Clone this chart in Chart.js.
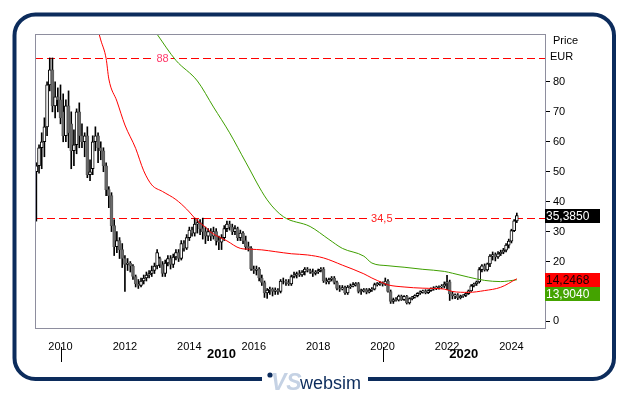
<!DOCTYPE html>
<html>
<head>
<meta charset="utf-8">
<script src="https://cdn.jsdelivr.net/npm/chart.js@4/dist/chart.umd.min.js"></script>
<style>
  html, body { margin: 0; padding: 0; background: #fff; }
  canvas { display: block; }
</style>
</head>
<body>
<canvas id="chart" width="629" height="395"></canvas>
<script>
// monthly candles, first one is April 2009
const firstYear = 2009;
const firstMonth = 4;
const monthCount = 190;

const open = [
  50, 52, 58, 60, 65, 79, 84, 72, 75, 74,
  70, 62, 72, 66, 57, 59, 70, 62, 60, 62,
  49, 51, 60, 62, 58, 57, 52, 44, 42, 32,
  25, 27, 24, 21, 19, 19.5, 18.5, 15, 12.5, 12,
  13.5, 14.5, 15.5, 16, 17, 18.5, 21, 19, 16, 19.5,
  21, 19, 21.5, 23, 21, 26, 24.5, 28, 30.5, 29.5,
  32.5, 33, 31, 30, 28.5, 30, 28.5, 30, 27, 26.5,
  28, 31, 32.5, 31.5, 30, 31, 28, 29.5, 27, 25,
  24.5, 17.5, 17, 17.5, 14.5, 13, 9.5, 10.5, 10.8, 10,
  10.5, 10, 13.5, 13.5, 13, 12.5, 15, 15.5, 16, 15.5,
  16.5, 17.5, 17, 16.5, 16, 16.5, 17, 17.5, 13.5, 13.2,
  14, 14.5, 13, 11, 10.8, 11.3, 9.5, 11.5, 11.8, 12.3,
  12.6, 10, 10.3, 10.6, 9.8, 10.5, 10.8, 12.3, 12.6, 12.9,
  12.4, 13.5, 10, 6.7, 7.3, 7.1, 8.5, 7.3, 8.4, 6.2,
  7.6, 8.1, 8.6, 9.4, 9.9, 10.2, 9.6, 10.3, 10.9, 11.2,
  11.4, 11.6, 11.8, 12.5, 13.2, 9.2, 8.5, 8.9, 7.9, 8.4,
  8.7, 9.3, 10.2, 11.9, 12.5, 13.2, 17.3, 18.6, 17.2, 19.2,
  21.8, 22.3, 21.5, 22.6, 23.1, 23.8, 25.5, 26.8, 30.3, 33.6
];
const high = [
  53, 59, 63, 68, 80, 88, 88, 80, 78, 79,
  76, 74, 77, 70, 64, 71, 73, 66, 63, 65,
  54, 62, 65, 63, 60, 58, 53, 45, 43, 34,
  30, 28, 26, 22, 21, 20, 19, 15.5, 14, 14.5,
  15.5, 16.5, 17, 18.5, 19.5, 24, 21.5, 20, 20.5, 22,
  22, 22.5, 24, 24, 27, 27, 29, 31.5, 31.5, 34.5,
  34, 34, 34.5, 31.5, 31, 31, 31.5, 31, 28.5, 29,
  32, 33.5, 33.5, 32.5, 32, 31.5, 30.5, 30, 28.5, 26.5,
  25, 18.5, 18.5, 18, 15.5, 13.5, 11, 11.5, 11.2, 11.2,
  11, 14, 14.5, 14, 14, 15.5, 16.5, 16.5, 17, 17,
  18, 18, 17.5, 17.5, 17, 17.5, 18, 18, 14.5, 14.5,
  15, 15, 13.5, 12, 12, 11.8, 12, 12.5, 13, 13,
  13, 10.8, 11, 11, 11, 11.3, 12.8, 13, 13.3, 13.2,
  14.5, 14, 10.5, 7.8, 8, 8.8, 8.8, 8.6, 8.7, 7.9,
  8.4, 8.9, 9.6, 10.2, 10.5, 10.6, 10.6, 11.2, 11.6, 11.8,
  11.9, 12.3, 13.2, 15.4, 13.8, 10, 9.2, 9.3, 8.8, 9,
  9.6, 10.5, 12.3, 12.8, 13.5, 18, 19, 19.2, 19.5, 22.3,
  23.2, 22.9, 23.3, 23.8, 24.4, 26, 27.5, 30.8, 34, 36.2
];
const low = [
  33.5, 49.5, 51, 55, 62, 77, 70, 68, 70, 66,
  60, 60, 58, 51, 52, 56, 58, 58, 55, 48,
  47, 49, 57, 53, 54, 50, 42, 38, 30, 22,
  23, 21, 18, 10, 17, 16.5, 14, 11.5, 11, 11.5,
  12.5, 13.5, 14.5, 15, 16, 17.5, 18, 15, 15, 18.5,
  17.5, 18, 20.5, 20, 20.5, 23.5, 24, 27, 28.5, 28.5,
  29.5, 29, 27.5, 26, 27, 27, 27.5, 25.5, 24, 24,
  27, 30, 30.5, 29, 29, 27, 27, 26, 24, 23.5,
  17, 16, 15.5, 13.5, 12, 8, 7.7, 9, 8.5, 9,
  9, 9.5, 12.5, 12, 12, 12, 14.5, 14.5, 15, 15,
  15.5, 16.5, 16, 15, 15.5, 16, 16.5, 13, 12.5, 12.5,
  13.5, 12.5, 10.5, 10, 10.5, 9, 9, 11, 11.5, 11.8,
  9.5, 9, 9.8, 9.2, 9.5, 10, 10.5, 11.8, 12, 11.8,
  12, 9.8, 6, 6, 6.8, 6.8, 7, 7, 5.8, 5.8,
  7.2, 7.8, 8.2, 9, 9.4, 9.2, 9.3, 10, 10.4, 10.6,
  10.8, 11, 11.2, 10.6, 7, 7.5, 7.6, 7.3, 7.5, 8,
  8.3, 9, 10, 11.5, 12, 12.8, 16.5, 16.8, 16.8, 18.3,
  20.5, 20.2, 21, 22, 22.6, 23.2, 24.5, 26.2, 30, 33
];
const close = [
  52, 58, 60, 65, 79, 84, 72, 75, 74, 68,
  62, 72, 63, 57, 59, 70, 62, 60, 62, 49,
  50, 60, 62, 58, 57, 52, 44, 42, 32, 25,
  27, 24, 21, 19, 19.5, 18.5, 15, 12.5, 12, 13.5,
  14.5, 15.5, 16, 17, 18.5, 23, 19, 16, 19.5, 21,
  19, 21.5, 23, 21, 26, 24.5, 28, 30.5, 29.5, 32.5,
  33, 31, 30, 28.5, 30, 28.5, 30, 27, 26.5, 28,
  31, 32.5, 31.5, 30, 31, 28, 29.5, 27, 25, 24.5,
  17.5, 17, 17.5, 14.5, 13, 9.5, 10.5, 10.8, 10, 10.5,
  10, 13.5, 13.5, 13, 12.5, 15, 15.5, 16, 15.5, 16.5,
  17.5, 17, 16.5, 16, 16.5, 17, 17.5, 13.5, 13.2, 14,
  14.5, 13, 11, 10.8, 11.3, 9.5, 11.5, 11.8, 12.3, 12.6,
  10, 10.3, 10.6, 9.8, 10.5, 10.8, 12.3, 12.6, 12.9, 12.4,
  13.5, 10, 6.7, 7.3, 7.1, 8.5, 7.3, 8.4, 6.2, 7.6,
  8.1, 8.6, 9.4, 9.9, 10.2, 9.6, 10.3, 10.9, 11.2, 11.4,
  11.6, 11.8, 12.5, 13.2, 9.2, 8.5, 8.9, 7.9, 8.4, 8.7,
  9.3, 10.2, 11.9, 12.5, 13.2, 17.3, 18.6, 17.2, 19.2, 21.8,
  22.3, 21.5, 22.6, 23.1, 23.8, 25.5, 26.8, 30.3, 33.6, 35.385
];

// moving averages as [month index, value]
const maShort = [
  [22, 100.5], [24, 94], [26, 87.8], [27, 81], [30, 73.6], [33, 65.6],
  [37, 57.8], [40, 50.3], [43, 45.6], [47, 43.4], [52, 40.7], [56, 37.5],
  [60, 33.6], [63, 31.5], [65, 29.8], [71, 26.9], [76, 24.4], [80, 24.1],
  [84, 23.9], [89, 23.3], [95, 22.6], [101, 22.2], [107, 21.2], [114, 18.8],
  [122, 15.9], [125, 14.5], [129, 12.9], [131, 12.2], [137, 11.5], [144, 11.1],
  [152, 10.8], [155, 10], [161, 9.7], [167, 10.3], [173, 11.4], [179, 14.2468]
];
const maLong = [
  [44, 97.2], [45, 95.9], [52, 87.2], [60, 80.3], [66, 71.6], [72, 63],
  [78, 53.2], [86, 40.6], [92, 35], [102, 31.7], [109, 27.4], [114, 24.4],
  [122, 21.8], [125, 19.5], [131, 18.6], [137, 18.1], [144, 17.4], [152, 16.7],
  [155, 16.1], [161, 14.8], [167, 13.7], [173, 13.3], [179, 13.904]
];

const levels = [
  { value: 88, text: "88", color: "#ff3b6b", at: 0.25 },
  { value: 34.5, text: "34,5", color: "#ff2020", at: 0.68 }
];
const lastValues = [
  { value: 35.385, text: "35,3850", fill: "#000000", ink: "#ffffff" },
  { value: 14.2468, text: "14,2468", fill: "#ff0000", ink: "#1a0000" },
  { value: 13.904, text: "13,9040", fill: "#44a300", ink: "#ffffff" }
];
const decades = ["2010", "2020"];
const yTicks = [0, 10, 20, 30, 40, 50, 60, 70, 80];

const FONT = "'Liberation Sans', Arial, sans-serif";
const NAVY = "#0c2c5c";

const labels = [];
for (let k = 0; k < monthCount; k++) {
  const m = firstMonth - 1 + k;
  const yr = firstYear + Math.floor(m / 12);
  const mo = (m % 12) + 1;
  labels.push(yr + "-" + (mo < 10 ? "0" + mo : mo));
}

const isUp = (i) => close[i] >= open[i];

const chrome = {
  id: "chrome",
  beforeDatasetsDraw(chart) {
    const { ctx, chartArea: a, scales } = chart;
    ctx.save();
    levels.forEach((lv) => {
      const py = Math.round(scales.y.getPixelForValue(lv.value)) + 0.5;
      ctx.strokeStyle = "#ff0000";
      ctx.lineWidth = 1.2;
      ctx.setLineDash([8, 4]);
      ctx.beginPath();
      ctx.moveTo(a.left, py);
      ctx.lineTo(a.right, py);
      ctx.stroke();
      ctx.setLineDash([]);
      ctx.font = "11px " + FONT;
      const w = ctx.measureText(lv.text).width;
      const cx = a.left + (a.right - a.left) * lv.at;
      ctx.fillStyle = "#fff";
      ctx.fillRect(cx - w / 2 - 2, py - 6, w + 4, 12);
      ctx.fillStyle = lv.color;
      ctx.textAlign = "center";
      ctx.textBaseline = "middle";
      ctx.fillText(lv.text, cx, py + 0.5);
    });
    ctx.restore();
  },
  afterDraw(chart) {
    const { ctx, chartArea: a, scales } = chart;
    ctx.save();
    // plot frame
    ctx.strokeStyle = "#8e8e9e";
    ctx.lineWidth = 1;
    ctx.strokeRect(Math.round(a.left) + 0.5, Math.round(a.top) + 0.5,
      Math.round(a.right - a.left), Math.round(a.bottom - a.top));

    // axis title
    ctx.fillStyle = "#000";
    ctx.font = "11px " + FONT;
    ctx.textAlign = "left";
    ctx.textBaseline = "middle";
    ctx.fillText("Price", a.right + 8, 41);
    ctx.fillText("EUR", a.right + 5, 57);

    // last value boxes
    ctx.font = "12px " + FONT;
    let prevBottom = -Infinity;
    lastValues.forEach((lv) => {
      let top = Math.round(scales.y.getPixelForValue(lv.value)) - 6;
      if (top < prevBottom) top = prevBottom;
      ctx.fillStyle = lv.fill;
      ctx.fillRect(a.right, top, 55, 14);
      ctx.fillStyle = lv.ink;
      ctx.fillText(lv.text, a.right + 1, top + 7.5);
      prevBottom = top + 14;
    });

    // decade row
    const x = scales.x;
    const d0 = x.getPixelForValue(labels.indexOf("2010-01"));
    const d1 = x.getPixelForValue(labels.indexOf("2020-01"));
    ctx.strokeStyle = "#000";
    ctx.lineWidth = 1;
    [d0, d1].forEach((px) => {
      ctx.beginPath();
      ctx.moveTo(Math.round(px) + 0.5, 347);
      ctx.lineTo(Math.round(px) + 0.5, 362);
      ctx.stroke();
    });
    ctx.fillStyle = "#000";
    ctx.font = "bold 13px " + FONT;
    ctx.textAlign = "center";
    ctx.textBaseline = "middle";
    ctx.fillText(decades[0], (d0 + d1) / 2, 354);
    ctx.fillText(decades[1], (d1 + a.right) / 2, 354);

    // outer rounded frame
    ctx.strokeStyle = NAVY;
    ctx.lineWidth = 4;
    ctx.beginPath();
    ctx.roundRect(14.5, 14.5, 599.5, 364.5, 21);
    ctx.stroke();
    ctx.fillStyle = "#fff";
    ctx.fillRect(262, 372, 106, 12);

    // logo
    ctx.fillStyle = NAVY;
    ctx.beginPath();
    ctx.arc(270, 375, 2.6, 0, Math.PI * 2);
    ctx.fill();
    ctx.fillStyle = "#c5d2e4";
    ctx.font = "italic bold 23px " + FONT;
    ctx.textAlign = "left";
    ctx.textBaseline = "alphabetic";
    ctx.fillText("VS", 271, 390);
    ctx.fillStyle = NAVY;
    ctx.font = "18px " + FONT;
    ctx.fillText("websim", 300, 389);
    ctx.restore();
  }
};

new Chart(document.getElementById("chart"), {
  type: "bar",
  data: {
    labels,
    datasets: [
      {
        type: "line",
        data: maShort.map((p) => ({ x: labels[p[0]], y: p[1] })),
        borderColor: "#ff0000",
        borderWidth: 1,
        pointRadius: 0,
        cubicInterpolationMode: "monotone",
        order: 0
      },
      {
        type: "line",
        data: maLong.map((p) => ({ x: labels[p[0]], y: p[1] })),
        borderColor: "#3f9f00",
        borderWidth: 1,
        pointRadius: 0,
        cubicInterpolationMode: "monotone",
        order: 0
      },
      {
        data: open.map((o, i) => [o, close[i]]),
        grouped: false,
        barThickness: 3,
        borderWidth: 1,
        borderSkipped: false,
        backgroundColor: (c) => (isUp(c.dataIndex) ? "#ffffff" : "#6a6a6a"),
        borderColor: (c) => (isUp(c.dataIndex) ? "#000000" : "#5a5a5a"),
        order: 1
      },
      {
        data: low.map((l, i) => [l, high[i]]),
        grouped: false,
        barThickness: 1,
        borderWidth: 0,
        backgroundColor: "#000000",
        order: 2
      }
    ]
  },
  options: {
    responsive: false,
    animation: false,
    events: [],
    layout: { padding: { left: 35, top: 34, right: 0, bottom: 0 } },
    plugins: { legend: { display: false }, tooltip: { enabled: false } },
    scales: {
      x: {
        type: "category",
        offset: true,
        grid: { display: false },
        border: { display: false },
        ticks: {
          autoSkip: false,
          maxRotation: 0,
          padding: 4,
          color: "#000",
          font: { size: 11, family: FONT },
          callback(v) {
            const lab = this.getLabelForValue(v);
            const yr = +lab.slice(0, 4);
            return lab.endsWith("-01") && yr % 2 === 0 ? String(yr) : "";
          }
        },
        afterFit(s) { s.height = 67; }
      },
      y: {
        position: "right",
        min: -2.2,
        max: 96,
        grid: { display: true, drawOnChartArea: false, drawTicks: true, tickLength: 5, color: "#000", tickColor: "#000" },
        border: { display: false },
        ticks: { stepSize: 10, padding: 3, color: "#000", font: { size: 11, family: FONT } },
        afterBuildTicks(s) { s.ticks = yTicks.map((v) => ({ value: v })); },
        afterFit(s) { s.width = 84; }
      }
    }
  },
  plugins: [chrome]
});
</script>
</body>
</html>
